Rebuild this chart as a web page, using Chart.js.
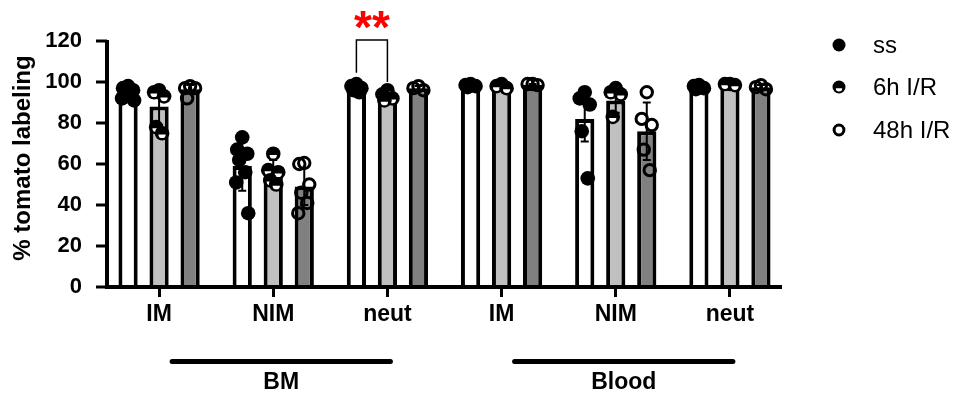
<!DOCTYPE html>
<html>
<head>
<meta charset="utf-8">
<script src="https://cdn.jsdelivr.net/npm/chart.js@4.4.0/dist/chart.umd.min.js"></script>
<style>
html,body{margin:0;padding:0;background:#fff;}
#wrap{width:958px;height:400px;position:relative;}
</style>
</head>
<body>
<div id="wrap"><canvas id="myChart" width="958" height="400"></canvas></div>
<script>
// categories and groups
var categories = ["IM", "NIM", "neut", "IM", "NIM", "neut"];
var groupNames = ["BM", "Blood"];
var seriesNames = ["ss", "6h I/R", "48h I/R"];
var yTicks = [0, 20, 40, 60, 80, 100, 120];

// bar means
var ssMean  = [95, 59, 97.5, 98.5, 82, 97.5];
var h6Mean  = [88, 56, 93.5, 98, 91, 98.5];
var h48Mean = [96.5, 49, 97, 98.5, 76, 97.5];

// error bars (+/-)
var ssErr  = [2.5, 12, 1.5, 1, 11, 1];
var h6Err  = [9, 6, 2.5, 1, 6, 0.5];
var h48Err = [2, 9, 1, 0.5, 14, 1];

// individual points
var ssPoints = [[98, 97, 96, 95, 94, 92, 91], [73, 67, 65, 62, 56, 51, 36], [99, 98, 97, 96, 95],
                [99, 98.5, 98, 97.5], [95, 92, 89, 76, 53], [98.5, 98, 97, 96.5]];
var h6Points = [[96, 95, 93, 78, 75], [65, 57, 56, 52, 50], [96, 94, 92, 91],
                [99, 98, 97], [97, 95, 94, 83], [99, 99, 98.5]];
var h48Points = [[98, 97, 97, 92], [60.5, 60, 50, 46, 41, 36], [98, 97, 96],
                 [99, 99, 98.5], [95, 82, 79, 67, 57], [98.5, 97.5, 96.5]];

// significance: neut (BM) ss vs 6h
var sigLabel = "**";

var FONT = "'Liberation Sans', Arial, Helvetica, sans-serif";
var jitter = [0, -5, 5, -3, 3, -6, 6, 0];
var markerKinds = ["filled", "half", "open"];

function drawMarker(ctx, kind, x, y, r) {
    ctx.save();
    if (kind === "filled") {
        ctx.beginPath(); ctx.arc(x, y, r, 0, Math.PI * 2);
        ctx.fillStyle = "#000"; ctx.fill();
    } else if (kind === "half") {
        ctx.beginPath(); ctx.arc(x, y, r, 0, Math.PI * 2);
        ctx.fillStyle = "#000"; ctx.fill();
        ctx.beginPath(); ctx.arc(x, y + 1.2, r * 0.5, 0, Math.PI);
        ctx.fillStyle = "#fff"; ctx.fill();
    } else {
        ctx.beginPath(); ctx.arc(x, y, r - 1.6, 0, Math.PI * 2);
        ctx.lineWidth = 3; ctx.strokeStyle = "#000"; ctx.stroke();
    }
    ctx.restore();
}

var errors = [ssErr, h6Err, h48Err];
var points = [ssPoints, h6Points, h48Points];

var overlay = {
    id: "overlay",
    afterDatasetsDraw: function(chart) {
        var ctx = chart.ctx;
        var ys = chart.scales.y, xs = chart.scales.x;

        // axis lines
        ctx.save();
        ctx.strokeStyle = "#000";
        ctx.lineWidth = 4;
        ctx.beginPath();
        ctx.moveTo(107, ys.getPixelForValue(120) - 1);
        ctx.lineTo(107, ys.getPixelForValue(0) + 2);
        ctx.moveTo(105, ys.getPixelForValue(0));
        ctx.lineTo(782, ys.getPixelForValue(0));
        ctx.stroke();
        ctx.lineWidth = 3;
        yTicks.forEach(function(t) {
            var py = ys.getPixelForValue(t);
            ctx.beginPath(); ctx.moveTo(96, py); ctx.lineTo(107, py); ctx.stroke();
        });
        ctx.restore();

        // error bars
        for (var d = 0; d < 3; d++) {
            var meta = chart.getDatasetMeta(d);
            meta.data.forEach(function(bar, i) {
                var m = chart.data.datasets[d].data[i], e = errors[d][i];
                var y1 = ys.getPixelForValue(m + e), y2 = ys.getPixelForValue(m - e);
                ctx.save();
                ctx.strokeStyle = "#000"; ctx.lineWidth = 2;
                ctx.beginPath();
                ctx.moveTo(bar.x, y1); ctx.lineTo(bar.x, y2);
                ctx.moveTo(bar.x - 4, y1); ctx.lineTo(bar.x + 4, y1);
                ctx.moveTo(bar.x - 4, y2); ctx.lineTo(bar.x + 4, y2);
                ctx.stroke();
                ctx.restore();
            });
        }

        // points
        for (var d2 = 0; d2 < 3; d2++) {
            var meta2 = chart.getDatasetMeta(d2);
            meta2.data.forEach(function(bar, i) {
                points[d2][i].forEach(function(v, k) {
                    drawMarker(ctx, markerKinds[d2], bar.x + jitter[k % jitter.length], ys.getPixelForValue(v), 7.3);
                });
            });
        }

        // significance bracket
        var bl = chart.getDatasetMeta(0).data[2], br = chart.getDatasetMeta(1).data[2];
        var topY = ys.getPixelForValue(120.5);
        ctx.save();
        ctx.strokeStyle = "#000"; ctx.lineWidth = 1.5;
        ctx.beginPath();
        ctx.moveTo(bl.x, ys.getPixelForValue(104.5));
        ctx.lineTo(bl.x, topY);
        ctx.lineTo(br.x, topY);
        ctx.lineTo(br.x, ys.getPixelForValue(100));
        ctx.stroke();
        ctx.fillStyle = "#ff0000";
        ctx.font = "bold 46px " + FONT;
        ctx.textAlign = "center";
        ctx.textBaseline = "alphabetic";
        ctx.fillText(sigLabel, (bl.x + br.x) / 2, 43);
        ctx.restore();

        // group lines + labels
        ctx.save();
        ctx.strokeStyle = "#000"; ctx.lineWidth = 5; ctx.lineCap = "round";
        ctx.fillStyle = "#000";
        ctx.font = "bold 23px " + FONT;
        ctx.textAlign = "center"; ctx.textBaseline = "middle";
        groupNames.forEach(function(g, gi) {
            var xa = xs.getPixelForValue(gi * 3) + 13;
            var xb = xs.getPixelForValue(gi * 3 + 2) + 3;
            ctx.beginPath(); ctx.moveTo(xa, 361.5); ctx.lineTo(xb, 361.5); ctx.stroke();
            ctx.fillText(g, (xa + xb) / 2, 383);
        });
        ctx.restore();

        // y title
        ctx.save();
        ctx.translate(23, 158);
        ctx.rotate(-Math.PI / 2);
        ctx.fillStyle = "#000";
        ctx.font = "bold 24px " + FONT;
        ctx.textAlign = "center"; ctx.textBaseline = "middle";
        ctx.fillText("% tomato labeling", 0, 0);
        ctx.restore();

        // legend
        ctx.save();
        ctx.fillStyle = "#000";
        ctx.font = "24px " + FONT;
        ctx.textAlign = "left"; ctx.textBaseline = "middle";
        var legY = [45, 87, 130];
        seriesNames.forEach(function(s, si) {
            drawMarker(ctx, markerKinds[si], 839, legY[si], 6.5);
            ctx.fillText(s, 873, legY[si] + 1);
        });
        ctx.restore();
    }
};

var ctx = document.getElementById('myChart').getContext('2d');
var chart = new Chart(ctx, {
    type: 'bar',
    data: {
        labels: categories,
        datasets: [{
            label: seriesNames[0],
            data: ssMean,
            backgroundColor: '#ffffff',
            borderColor: '#000000',
            borderWidth: 4
        }, {
            label: seriesNames[1],
            data: h6Mean,
            backgroundColor: '#c0c0c0',
            borderColor: '#000000',
            borderWidth: 4
        }, {
            label: seriesNames[2],
            data: h48Mean,
            backgroundColor: '#808080',
            borderColor: '#000000',
            borderWidth: 4
        }]
    },
    options: {
        responsive: false,
        animation: false,
        devicePixelRatio: 1,
        categoryPercentage: 0.815,
        barPercentage: 0.62,
        layout: { padding: { left: 0, right: 171, top: 41, bottom: 0 } },
        plugins: { legend: { display: false }, tooltip: { enabled: false } },
        scales: {
            x: {
                offset: true,
                grid: { display: true, drawOnChartArea: false, offset: false, tickLength: 10, lineWidth: 3, color: '#000' },
                border: { display: false },
                ticks: { color: '#000', font: { family: FONT, size: 23, weight: 'bold' }, padding: 4, maxRotation: 0 },
                afterFit: function(s) { s.height = 113; }
            },
            y: {
                min: 0, max: 120,
                grid: { display: false },
                border: { display: false },
                afterBuildTicks: function(s) { s.ticks = yTicks.map(function(v) { return { value: v }; }); },
                ticks: { color: '#000', font: { family: FONT, size: 22, weight: 'bold' }, padding: 12 },
                afterFit: function(s) { s.width = 102; }
            }
        }
    },
    plugins: [overlay]
});
</script>
</body>
</html>
